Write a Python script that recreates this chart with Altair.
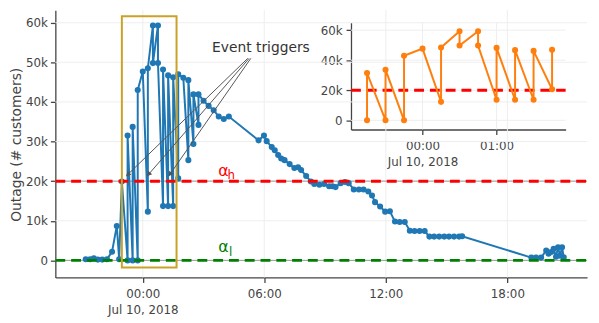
import math
import altair as alt
import pandas as pd

ORIGIN = "2018-07-10 00:00"

# ---------------- data ----------------
times = [
    "2018-07-09 21:11", "2018-07-09 21:24", "2018-07-09 21:35", "2018-07-09 21:47",
    "2018-07-09 22:00", "2018-07-09 22:14", "2018-07-09 22:29", "2018-07-09 22:43",
    "2018-07-09 22:50", "2018-07-09 22:58",
    "2018-07-09 23:15", "2018-07-09 23:15", "2018-07-09 23:30", "2018-07-09 23:30",
    "2018-07-09 23:45", "2018-07-09 23:45",
    "2018-07-10 00:00", "2018-07-10 00:15", "2018-07-10 00:15", "2018-07-10 00:30",
    "2018-07-10 00:30", "2018-07-10 00:45", "2018-07-10 00:45", "2018-07-10 01:00",
    "2018-07-10 01:00", "2018-07-10 01:15", "2018-07-10 01:15", "2018-07-10 01:30",
    "2018-07-10 01:30", "2018-07-10 01:45", "2018-07-10 01:45", "2018-07-10 02:00",
    "2018-07-10 02:15", "2018-07-10 02:15", "2018-07-10 02:30", "2018-07-10 02:30",
    "2018-07-10 02:45", "2018-07-10 02:45", "2018-07-10 03:00", "2018-07-10 03:15",
    "2018-07-10 03:30", "2018-07-10 03:45", "2018-07-10 04:00", "2018-07-10 04:15",
    "2018-07-10 05:43", "2018-07-10 05:59", "2018-07-10 06:07", "2018-07-10 06:22",
    "2018-07-10 06:31", "2018-07-10 06:41", "2018-07-10 06:50", "2018-07-10 07:00",
    "2018-07-10 07:15", "2018-07-10 07:29", "2018-07-10 07:40", "2018-07-10 07:49",
    "2018-07-10 08:04", "2018-07-10 08:18", "2018-07-10 08:28", "2018-07-10 08:43",
    "2018-07-10 08:57", "2018-07-10 09:12", "2018-07-10 09:22", "2018-07-10 09:31",
    "2018-07-10 09:46", "2018-07-10 09:59", "2018-07-10 10:10", "2018-07-10 10:25",
    "2018-07-10 10:40", "2018-07-10 10:54", "2018-07-10 11:08", "2018-07-10 11:19",
    "2018-07-10 11:28", "2018-07-10 11:43", "2018-07-10 11:58", "2018-07-10 12:12",
    "2018-07-10 12:27", "2018-07-10 12:41", "2018-07-10 12:56", "2018-07-10 13:11",
    "2018-07-10 13:25", "2018-07-10 13:40", "2018-07-10 13:55", "2018-07-10 14:09",
    "2018-07-10 14:23", "2018-07-10 14:38", "2018-07-10 14:53", "2018-07-10 15:07",
    "2018-07-10 15:22", "2018-07-10 15:37", "2018-07-10 15:46",
    "2018-07-10 19:11", "2018-07-10 19:25", "2018-07-10 19:40", "2018-07-10 19:55",
    "2018-07-10 20:02", "2018-07-10 20:10", "2018-07-10 20:17", "2018-07-10 20:24",
    "2018-07-10 20:30", "2018-07-10 20:36", "2018-07-10 20:42", "2018-07-10 20:47",
]
outage = [
    300, 300, 500, 200,
    200, 300, 2200, 8700,
    300, 19900,
    0, 31500, 0, 33700,
    0, 43000,
    47700, 12300, 48500, 59300,
    49800, 59300, 49800, 13700,
    48200, 13700, 46700, 13700,
    46200, 20700, 47000, 46100,
    25300, 45500, 29400, 41900,
    34200, 41900, 40300, 39000,
    37900, 36300, 35700, 36300,
    30300, 31500, 30100, 28600,
    27800, 26600, 25700, 25300,
    24300, 23300, 23500, 22800,
    21300, 19900, 19300, 19100,
    19300, 18700, 18700, 18500,
    19500, 19800, 19500, 17900,
    17900, 17900, 17400, 16400,
    14700, 13600, 12300, 12400,
    9800, 9700, 9700, 7500,
    7400, 7400, 7400, 6000,
    6000, 6000, 6000, 6000,
    6000, 6000, 6100,
    700, 700, 700, 2500,
    1700, 2100, 2900, 900,
    3300, 1200, 3300, 800,
]

alpha_high = 20000
alpha_low = 0

main_x_ticks = [0, 6, 12, 18]
main_y_ticks = [0, 10000, 20000, 30000, 40000, 50000, 60000]
inset_x_ticks = [0, 1]
inset_y_ticks = [0, 20000, 40000, 60000]

main_x_limits = ["2018-07-09 19:41", "2018-07-10 21:56"]
main_y_limits = [-4310, 63170]
inset_x_limits = ["2018-07-09 23:02", "2018-07-10 01:56"]
inset_y_limits = [-6100, 65000]
inset_window = ["2018-07-09 23:10", "2018-07-10 01:50"]

box_times = ["2018-07-09 22:58", "2018-07-10 01:40"]
box_values = [-1800, 61600]

note_text = "Event triggers"
note_time = "2018-07-10 05:50"
note_value = 53500
arrow_tail_times = ["2018-07-10 05:11", "2018-07-10 05:15", "2018-07-10 05:20"]
arrow_tail_value = 51000
arrow_tip_times = ["2018-07-09 23:11", "2018-07-10 00:13", "2018-07-10 01:17"]
arrow_tip_value = 21300

label_high = ("α", "h", "2018-07-10 03:59", 22500, "2018-07-10 04:22", 21600)
label_low = ("α", "l", "2018-07-10 03:59", 3300, "2018-07-10 04:20", 2100)

# ---------------- layout ----------------
W, H = 539, 271
INSET_X_RANGE = [299.7, 517.3]
INSET_Y_RANGE = [121, 12.7]
FONT = "DejaVu Sans"
AXC = "#444"


def hrs(s):
    return (pd.Timestamp(s) - pd.Timestamp(ORIGIN)).total_seconds() / 3600.0


mx_dom = [hrs(s) for s in main_x_limits]
ix_dom = [hrs(s) for s in inset_x_limits]

XS = alt.Scale(domain=mx_dom, nice=False, zero=False)
YS = alt.Scale(domain=main_y_limits, nice=False, zero=False)
IXS = alt.Scale(domain=ix_dom, range=INSET_X_RANGE, nice=False, zero=False)
IYS = alt.Scale(domain=inset_y_limits, range=INSET_Y_RANGE, nice=False, zero=False)

T_LABEL = ("datum.value == 0 ? ['00:00', 'Jul 10, 2018'] : "
           "(datum.value < 10 ? '0' : '') + datum.value + ':00'")
V_LABEL = "datum.value == 0 ? '0' : format(datum.value / 1000, 'd') + 'k'"

AX_X = alt.Axis(values=main_x_ticks, labelExpr=T_LABEL, grid=False, title=None,
                tickSize=5, labelPadding=6, labelLineHeight=16.5, labelFlush=False,
                labelOverlap=False, orient="bottom")
AX_Y = alt.Axis(values=main_y_ticks, labelExpr=V_LABEL, grid=False,
                title="Outage (# customers)", titleX=-35, titleY=136, titleAngle=270,
                titleAlign="center", titleBaseline="alphabetic", titleFontSize=14,
                titleFontWeight="normal", titleColor=AXC, titleFont=FONT,
                tickSize=5, labelPadding=3, labelOverlap=False, orient="left")
AX_IX = alt.Axis(values=inset_x_ticks, labelExpr=T_LABEL, grid=False, title=None,
                 tickSize=5, labelPadding=6, labelLineHeight=16.5, labelFlush=False,
                 labelOverlap=False, orient="bottom", offset=-(H - INSET_Y_RANGE[0]))
AX_IY = alt.Axis(values=inset_y_ticks, labelExpr=V_LABEL, grid=False, title=None,
                 tickSize=5, labelPadding=4, labelOverlap=False, orient="left",
                 offset=-INSET_X_RANGE[0])


def mx(f):
    return alt.X(f, type="quantitative", scale=XS, axis=AX_X)


def my(f):
    return alt.Y(f, type="quantitative", scale=YS, axis=AX_Y)


def ix(f):
    return alt.X(f, type="quantitative", scale=IXS, axis=AX_IX)


def iy(f):
    return alt.Y(f, type="quantitative", scale=IYS, axis=AX_IY)


# ---------------- tables ----------------
series = pd.DataFrame({"t": [hrs(s) for s in times], "v": outage})
series["i"] = range(len(series))

w0, w1 = hrs(inset_window[0]), hrs(inset_window[1])
inset_series = series[(series.t >= w0) & (series.t <= w1)].copy()

hgrid = pd.DataFrame({"v": main_y_ticks, "a": mx_dom[0], "b": mx_dom[1]})
vgrid = pd.DataFrame({"t": main_x_ticks, "a": main_y_limits[0], "b": main_y_limits[1]})
thresh = pd.DataFrame({"v": [alpha_high, alpha_low], "a": mx_dom[0], "b": mx_dom[1],
                       "c": ["high", "low"]})
box = pd.DataFrame({"a": [hrs(box_times[0])], "b": [hrs(box_times[1])],
                    "c": [box_values[0]], "d": [box_values[1]]})

sx = W / (mx_dom[1] - mx_dom[0])
sy = H / (main_y_limits[1] - main_y_limits[0])
rows = []
for tt, tp in zip(arrow_tail_times, arrow_tip_times):
    a, b = hrs(tt), hrs(tp)
    dxp = (b - a) * sx
    dyp = -(arrow_tip_value - arrow_tail_value) * sy
    ang = math.degrees(math.atan2(dxp, -dyp)) % 360
    L = math.hypot(dxp, dyp)
    back = 3.0
    hx = b - (dxp / L) * back / sx
    hy = arrow_tip_value + (dyp / L) * back / sy
    rows.append({"t0": a, "v0": arrow_tail_value, "t1": b, "v1": arrow_tip_value,
                 "ht": hx, "hv": hy, "ang": ang})
arrows = pd.DataFrame(rows)

note = pd.DataFrame({"t": [hrs(note_time)], "v": [note_value], "s": [note_text]})

lab_main = pd.DataFrame({
    "t": [hrs(label_high[2]), hrs(label_low[2])],
    "v": [label_high[3], label_low[3]],
    "s": [label_high[0], label_low[0]],
    "c": ["high", "low"],
})
lab_sub = pd.DataFrame({
    "t": [hrs(label_high[4]), hrs(label_low[4])],
    "v": [label_high[5], label_low[5]],
    "s": [label_high[1], label_low[1]],
    "c": ["high", "low"],
})
CSCALE = alt.Scale(domain=["high", "low"], range=["#ff0000", "#008000"])

ihgrid = pd.DataFrame({"v": inset_y_ticks, "a": ix_dom[0], "b": ix_dom[1]})
ivgrid = pd.DataFrame({"t": inset_x_ticks, "a": inset_y_limits[0], "b": inset_y_limits[1]})
ithresh = pd.DataFrame({"v": [alpha_high], "a": ix_dom[0], "b": ix_dom[1]})

# ---------------- main layers ----------------
g1 = alt.Chart(hgrid).mark_rule(color="#eeeeee", strokeWidth=1).encode(
    x=mx("a"), x2="b", y=my("v"))
g2 = alt.Chart(vgrid).mark_rule(color="#eeeeee", strokeWidth=1).encode(
    x=mx("t"), y=my("a"), y2="b")
th_base = alt.Chart(thresh).mark_rule(color="#999999", strokeWidth=1).encode(
    x=mx("a"), x2="b", y=my("v"))
line = alt.Chart(series).mark_line(color="#1f77b4", strokeWidth=2).encode(
    x=mx("t"), y=my("v"), order="i:Q")
pts = alt.Chart(series).mark_circle(color="#1f77b4", size=38, opacity=1).encode(
    x=mx("t"), y=my("v"))
th_dash = alt.Chart(thresh).mark_rule(strokeWidth=3, strokeDash=[10, 6]).encode(
    x=mx("a"), x2="b", y=my("v"),
    color=alt.Color("c:N", scale=CSCALE, legend=None))
rect = alt.Chart(box).mark_rect(fillOpacity=0, stroke="#c9a227", strokeWidth=2).encode(
    x=mx("a"), x2="b", y=my("c"), y2="d")
arr = alt.Chart(arrows).mark_rule(color="#555555", strokeWidth=1).encode(
    x=mx("t0"), x2="t1", y=my("v0"), y2="v1")
heads = alt.Chart(arrows).mark_point(shape="triangle", filled=True, size=30,
                                     color="#555555", opacity=1).encode(
    x=mx("ht"), y=my("hv"), angle=alt.Angle("ang:Q", scale=None))
note_t = alt.Chart(note).mark_text(font=FONT, fontSize=14, color="#333333",
                                   align="center", baseline="middle").encode(
    x=mx("t"), y=my("v"), text="s:N")
lab1 = alt.Chart(lab_main).mark_text(font=FONT, fontSize=16, align="center",
                                     baseline="middle").encode(
    x=mx("t"), y=my("v"), text="s:N",
    color=alt.Color("c:N", scale=CSCALE, legend=None))
lab2 = alt.Chart(lab_sub).mark_text(font=FONT, fontSize=12, align="center",
                                    baseline="middle").encode(
    x=mx("t"), y=my("v"), text="s:N",
    color=alt.Color("c:N", scale=CSCALE, legend=None))

main = alt.layer(g1, g2, th_base, line, pts, th_dash, rect, arr, heads, note_t, lab1, lab2)

# ---------------- inset layers ----------------
ig1 = alt.Chart(ihgrid).mark_rule(color="#eeeeee", strokeWidth=1).encode(
    x=ix("a"), x2="b", y=iy("v"))
ig2 = alt.Chart(ivgrid).mark_rule(color="#eeeeee", strokeWidth=1).encode(
    x=ix("t"), y=iy("a"), y2="b")
ith = alt.Chart(ithresh).mark_rule(color="#ff0000", strokeWidth=3, strokeDash=[10, 6]).encode(
    x=ix("a"), x2="b", y=iy("v"))
iline = alt.Chart(inset_series).mark_line(color="#ff7f0e", strokeWidth=2).encode(
    x=ix("t"), y=iy("v"), order="i:Q")
ipts = alt.Chart(inset_series).mark_circle(color="#ff7f0e", size=38, opacity=1).encode(
    x=ix("t"), y=iy("v"))

inset = alt.layer(ig1, ig2, ith, iline, ipts)

chart = alt.layer(main, inset).resolve_scale(
    x="independent", y="independent", color="independent"
).properties(
    width=W, height=H,
    padding={"left": 48, "top": 0, "right": 4, "bottom": 44},
    autosize=alt.AutoSizeParams(type="none"),
).configure_axis(
    labelFont=FONT, titleFont=FONT, labelFontSize=12, labelColor=AXC,
    domainColor=AXC, tickColor=AXC, domainWidth=1.3, tickWidth=1.3,
).configure_view(stroke=None)

chart.save("out.html", embed_options={"renderer": "svg", "actions": False})
